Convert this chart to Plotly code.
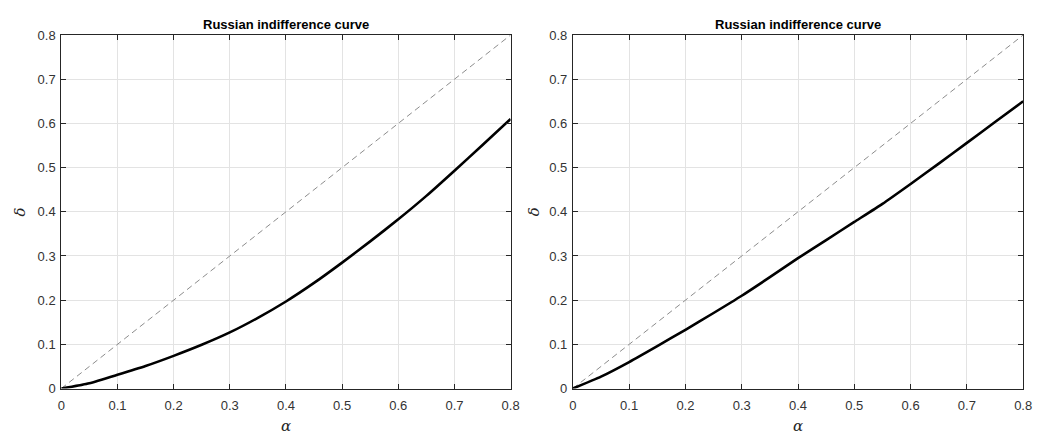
import plotly.graph_objects as go

alpha = [0, 0.05, 0.1, 0.15, 0.2, 0.25, 0.3, 0.35, 0.4, 0.45, 0.5, 0.55, 0.6, 0.65, 0.7, 0.75, 0.8]
delta_left = [0, 0.012, 0.031, 0.051, 0.074, 0.099, 0.127, 0.160, 0.197, 0.239, 0.285, 0.333, 0.383, 0.436, 0.493, 0.551, 0.61]
delta_right = [0, 0.027, 0.06, 0.096, 0.133, 0.171, 0.21, 0.252, 0.295, 0.336, 0.377, 0.418, 0.463, 0.509, 0.556, 0.603, 0.65]
diag = [0, 0.8]
ticks = [0, 0.1, 0.2, 0.3, 0.4, 0.5, 0.6, 0.7, 0.8]
tick_text = ["0", "0.1", "0.2", "0.3", "0.4", "0.5", "0.6", "0.7", "0.8"]
title = "Russian indifference curve"

W, H = 1046, 441
fig = go.Figure()

for i, dv in enumerate([delta_left, delta_right]):
    xa = "x" if i == 0 else "x2"
    ya = "y" if i == 0 else "y2"
    fig.add_trace(go.Scatter(x=diag, y=diag, mode="lines", xaxis=xa, yaxis=ya,
                             line=dict(color="#8c8c8c", width=1, dash="6px,4px"),
                             showlegend=False, hoverinfo="skip"))
    fig.add_trace(go.Scatter(x=alpha, y=dv, mode="lines", xaxis=xa, yaxis=ya,
                             line=dict(color="black", width=2.6, shape="spline", smoothing=0.5),
                             showlegend=False))

left_px = (58, 513)
right_px = (576, 1032)
top_px, bot_px = 29, 395

ax_common = dict(range=[0, 0.8], tickvals=ticks, ticktext=tick_text,
                 showgrid=True, gridcolor="#e3e3e3", gridwidth=1,
                 zeroline=False, showline=True, linecolor="#262626", linewidth=1,
                 mirror="ticks", ticks="inside", ticklen=5, tickcolor="#262626",
                 tickfont=dict(family="Liberation Sans, Arial", size=13, color="#333333"))

ydom = [(H - bot_px) / H, (H - top_px) / H]
fig.update_layout(
    width=W, height=H, margin=dict(l=0, r=0, t=0, b=0),
    paper_bgcolor="white", plot_bgcolor="white",
    xaxis=dict(domain=[left_px[0] / W, left_px[1] / W], anchor="y", ticklabelstandoff=5, **ax_common),
    yaxis=dict(domain=ydom, anchor="x", ticklabelstandoff=2, **ax_common),
    xaxis2=dict(domain=[right_px[0] / W, right_px[1] / W], anchor="y2", ticklabelstandoff=5, **ax_common),
    yaxis2=dict(domain=ydom, anchor="x2", ticklabelstandoff=2, **ax_common),
)

ann = []
for (x0, x1), yl_x in [(left_px, 16), (right_px, 536)]:
    xc = (x0 + x1) / 2 / W
    ann.append(dict(text="<b>" + title + "</b>", x=xc, y=(H - 18) / H, xref="paper", yref="paper",
                    showarrow=False, xanchor="center", yanchor="middle",
                    font=dict(family="Liberation Sans, Arial", size=13, color="black")))
    ann.append(dict(text="<i>α</i>", x=xc, y=(H - 434) / H, xref="paper", yref="paper",
                    showarrow=False, xanchor="center", yanchor="middle",
                    font=dict(family="DejaVu Serif", size=15, color="#262626")))
    ann.append(dict(text="<i>δ</i>", x=yl_x / W, y=(H - 212) / H, xref="paper", yref="paper",
                    showarrow=False, xanchor="center", yanchor="middle", textangle=-90,
                    font=dict(family="DejaVu Serif", size=15, color="#262626")))
fig.update_layout(annotations=ann)

fig.write_html("out.html", config={"displayModeBar": False},
               post_script="document.body.style.margin='0';document.body.style.overflow='hidden';")
